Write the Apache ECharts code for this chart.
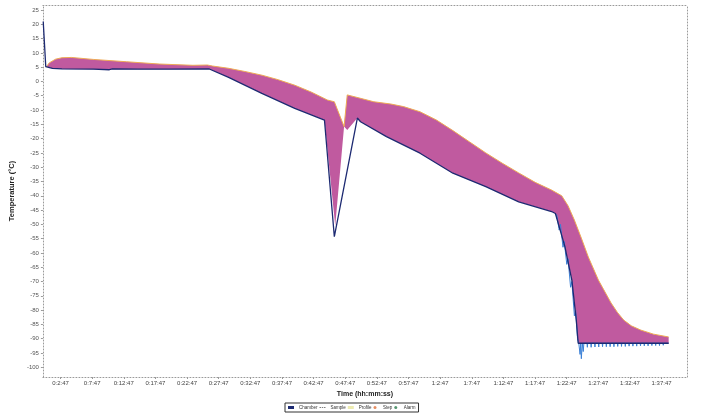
<!DOCTYPE html>
<html><head><meta charset="utf-8">
<script src="https://cdn.jsdelivr.net/npm/echarts@6/dist/echarts.min.js"></script>
<style>html,body{margin:0;padding:0;background:#fff}#c{width:703px;height:419px}</style>
</head><body><div id="c"></div>
<script>
// time in minutes, temperature in °C
const xTickValues = [2.783,7.783,12.783,17.783,22.783,27.783,32.783,37.783,42.783,47.783,52.783,57.783,62.783,67.783,72.783,77.783,82.783,87.783,92.783,97.783];
const xTickLabels = ["0:2:47","0:7:47","0:12:47","0:17:47","0:22:47","0:27:47","0:32:47","0:37:47","0:42:47","0:47:47","0:52:47","0:57:47","1:2:47","1:7:47","1:12:47","1:17:47","1:22:47","1:27:47","1:32:47","1:37:47"];
const yTickValues = [-100,-95,-90,-85,-80,-75,-70,-65,-60,-55,-50,-45,-40,-35,-30,-25,-20,-15,-10,-5,0,5,10,15,20,25];

const chamber = [[0.05,21.0],[0.45,5.2],[1.5,4.6],[3,4.4],[8,4.3],[10.5,4.1],[11,4.4],[15,4.3],[20,4.3],[26.3,4.35],
 [29.35,1.45],[34.6,-4.15],[39.8,-9.4],[44.5,-13.5],[46.06,-54.3],[49.7,-12.8],[50.2,-14.1],
 [54.3,-19.3],[59.6,-25.1],[64.8,-32.1],[70.0,-36.8],[75.2,-42.1],[80.4,-45.5],[81.0,-46.2],
 [82.5,-57.8],[83.6,-69.5],[84.3,-83.5],[84.6,-91.6],[98.9,-91.6]];

const bandUpper = [[0.5,5.0],[1.0,6.5],[2.0,7.8],[3.0,8.3],[4.5,8.4],[8.0,7.7],[13.2,6.9],[18.4,6.1],[23.7,5.65],[26.0,5.75],[26.8,5.4],
 [29.35,4.6],[31.9,3.5],[34.6,2.2],[37.2,0.6],[39.8,-1.3],[42.4,-3.7],[44.97,-6.5],[46.06,-7.1],[47.6,-15.8],[48.1,-4.7],[50.2,-5.9],[52.3,-7.1],[55.0,-7.9],[57.0,-8.8],
 [59.6,-10.6],[62.2,-13.5],[64.8,-17.2],[67.4,-21.1],[70.0,-25.0],[72.6,-28.6],[75.2,-32.0],[77.8,-35.3],[80.4,-38.0],[82.0,-40.0],[83.0,-43.5],[84.0,-48.5],[85.1,-54.8],[86.2,-61.4],[87.8,-69.5],
 [89.8,-77.5],[90.8,-80.8],[91.8,-83.5],[93.0,-85.5],[94.5,-87.0],[96.5,-88.4],[98.9,-89.4]];

const bandLower = [[0.5,5.2],[1.5,4.6],[3,4.4],[8,4.3],[15,4.3],[20,4.3],[26.3,4.35],
 [29.35,1.45],[34.6,-4.15],[39.8,-9.4],[44.5,-13.5],[46.2,-50.5],[47.6,-15.8],[48.1,-17.0],[49.7,-12.8],[50.2,-14.1],
 [54.3,-19.3],[59.6,-25.1],[64.8,-32.1],[70.0,-36.8],[75.2,-42.1],[80.4,-45.5],[81.0,-46.2],
 [82.5,-57.8],[83.6,-69.5],[84.3,-83.5],[84.6,-91.6],[98.9,-91.6]];

const sampleSpikes = [[81.2,-46.5],[81.6,-52],[81.8,-50],[82.2,-58],[82.4,-56],[82.8,-64],[83.0,-62],[83.4,-72],[83.6,-70],[84.0,-82],[84.2,-80],[84.5,-90],[84.7,-91.6],[84.9,-95.5],[85.0,-91.6],[85.1,-97.0],[85.25,-91.6],[85.4,-94.5],[85.5,-91.6],
 [86.0,-91.6],[86.05,-93.0],[86.1,-91.6],[86.6,-91.6],[86.65,-93.0],[86.7,-91.6],[87.2,-91.6],[87.25,-92.9],[87.3,-91.6],[87.8,-91.6],[87.85,-92.9],[87.9,-91.6],
 [88.4,-91.6],[88.45,-92.8],[88.5,-91.6],[89.0,-91.6],[89.05,-92.8],[89.1,-91.6],[89.6,-91.6],[89.65,-92.8],[89.7,-91.6],[90.2,-91.6],[90.25,-92.8],[90.3,-91.6],
 [90.8,-91.6],[90.85,-92.7],[90.9,-91.6],[91.4,-91.6],[91.45,-92.7],[91.5,-91.6],[92.0,-91.6],[92.05,-92.7],[92.1,-91.6],[92.6,-91.6],[92.65,-92.6],[92.7,-91.6],
 [93.2,-91.6],[93.25,-92.6],[93.3,-91.6],[93.8,-91.6],[93.85,-92.6],[93.9,-91.6],[94.4,-91.6],[94.45,-92.5],[94.5,-91.6],[95.0,-91.6],[95.05,-92.5],[95.1,-91.6],
 [95.6,-91.6],[95.65,-92.5],[95.7,-91.6],[96.2,-91.6],[96.25,-92.4],[96.3,-91.6],[96.8,-91.6],[96.85,-92.4],[96.9,-91.6],[97.4,-91.6],[97.45,-92.4],[97.5,-91.6],
 [98.0,-91.6],[98.05,-92.3],[98.1,-91.6],[98.9,-91.6]];

const FONT = 'Liberation Sans, Arial, sans-serif';
const chart = echarts.init(document.getElementById('c'), null, {renderer:'canvas'});
const dotted = {show:true, onZero:false, lineStyle:{color:'#9a9a9a', type:[1,2], width:1}};
chart.setOption({
  animation:false,
  backgroundColor:'#ffffff',
  grid:{left:36, right:16, top:5, bottom:42},
  legend:{
    left:285, top:403, orient:'horizontal',
    itemWidth:6, itemHeight:3, itemGap:2, padding:[2,3],
    borderColor:'#333', borderWidth:1,
    textStyle:{fontSize:4.5, color:'#333', fontFamily:FONT},
    data:[
      {name:'Chamber', icon:'rect', itemStyle:{color:'#1d2a72'}},
      {name:'Sample', icon:'path://M0,0h2v1h-2zM3,0h2v1h-2zM6,0h2v1h-2z', itemStyle:{color:'#555'}},
      {name:'Profile', icon:'rect', itemStyle:{color:'#ecebb0'}},
      {name:'Step', icon:'circle', itemStyle:{color:'#e0703a'}},
      {name:'Alarm', icon:'circle', itemStyle:{color:'#2b7a4c'}}
    ]
  },
  xAxis:[{
    type:'value', min:0, max:101.8, position:'bottom',
    name:'Time (hh:mm:ss)', nameLocation:'middle', nameGap:14,
    nameTextStyle:{fontSize:7, fontWeight:'bold', color:'#222', fontFamily:FONT},
    axisLine:dotted,
    axisTick:{show:true, length:2, lineStyle:{color:'#999'}, customValues:xTickValues},
    axisLabel:{fontSize:6, color:'#444', margin:3, fontFamily:FONT, customValues:xTickValues,
      formatter:(v)=>{const i=xTickValues.findIndex(t=>Math.abs(t-v)<1e-6); return i>=0?xTickLabels[i]:'';}},
    splitLine:{show:false}
  },{
    type:'value', min:0, max:101.8, position:'top',
    axisLine:dotted, axisTick:{show:false}, axisLabel:{show:false}, splitLine:{show:false}
  }],
  yAxis:[{
    type:'value', min:-103.4, max:26.75, position:'left',
    name:'Temperature (°C)', nameLocation:'middle', nameGap:14, nameRotate:90,
    nameTextStyle:{fontSize:7.5, fontWeight:'bold', color:'#222', fontFamily:FONT},
    axisLine:dotted,
    axisTick:{show:true, length:2, lineStyle:{color:'#999'}, customValues:yTickValues},
    axisLabel:{fontSize:6, color:'#555', margin:4, fontFamily:FONT, customValues:yTickValues},
    splitLine:{show:false}
  },{
    type:'value', min:-103.4, max:26.75, position:'right',
    axisLine:dotted, axisTick:{show:false}, axisLabel:{show:false}, splitLine:{show:false}
  }],
  series:[
    {
      type:'custom', silent:true, z:1,
      renderItem:(params, api)=>{
        const pts = bandUpper.map(p=>api.coord(p)).concat(bandLower.slice().reverse().map(p=>api.coord(p)));
        return {type:'polygon', shape:{points:pts}, style:{fill:'#c05a9f'}};
      },
      data:[[50,0]]
    },
    {name:'Profile', type:'line', symbol:'none', data:bandUpper, z:2,
     lineStyle:{color:'#eeaa55', width:1}, itemStyle:{color:'#ecebb0'}},
    {name:'Sample', type:'line', symbol:'none', data:sampleSpikes, z:3,
     lineStyle:{color:'#3a7fd6', width:1}, itemStyle:{color:'#555'}},
    {name:'Chamber', type:'line', symbol:'none', data:chamber, z:4,
     lineStyle:{color:'#1d2a72', width:1.3}, itemStyle:{color:'#1d2a72'}},
    {name:'Step', type:'scatter', data:[], itemStyle:{color:'#e0703a'}},
    {name:'Alarm', type:'scatter', data:[], itemStyle:{color:'#2b7a4c'}}
  ]
});
</script></body></html>
